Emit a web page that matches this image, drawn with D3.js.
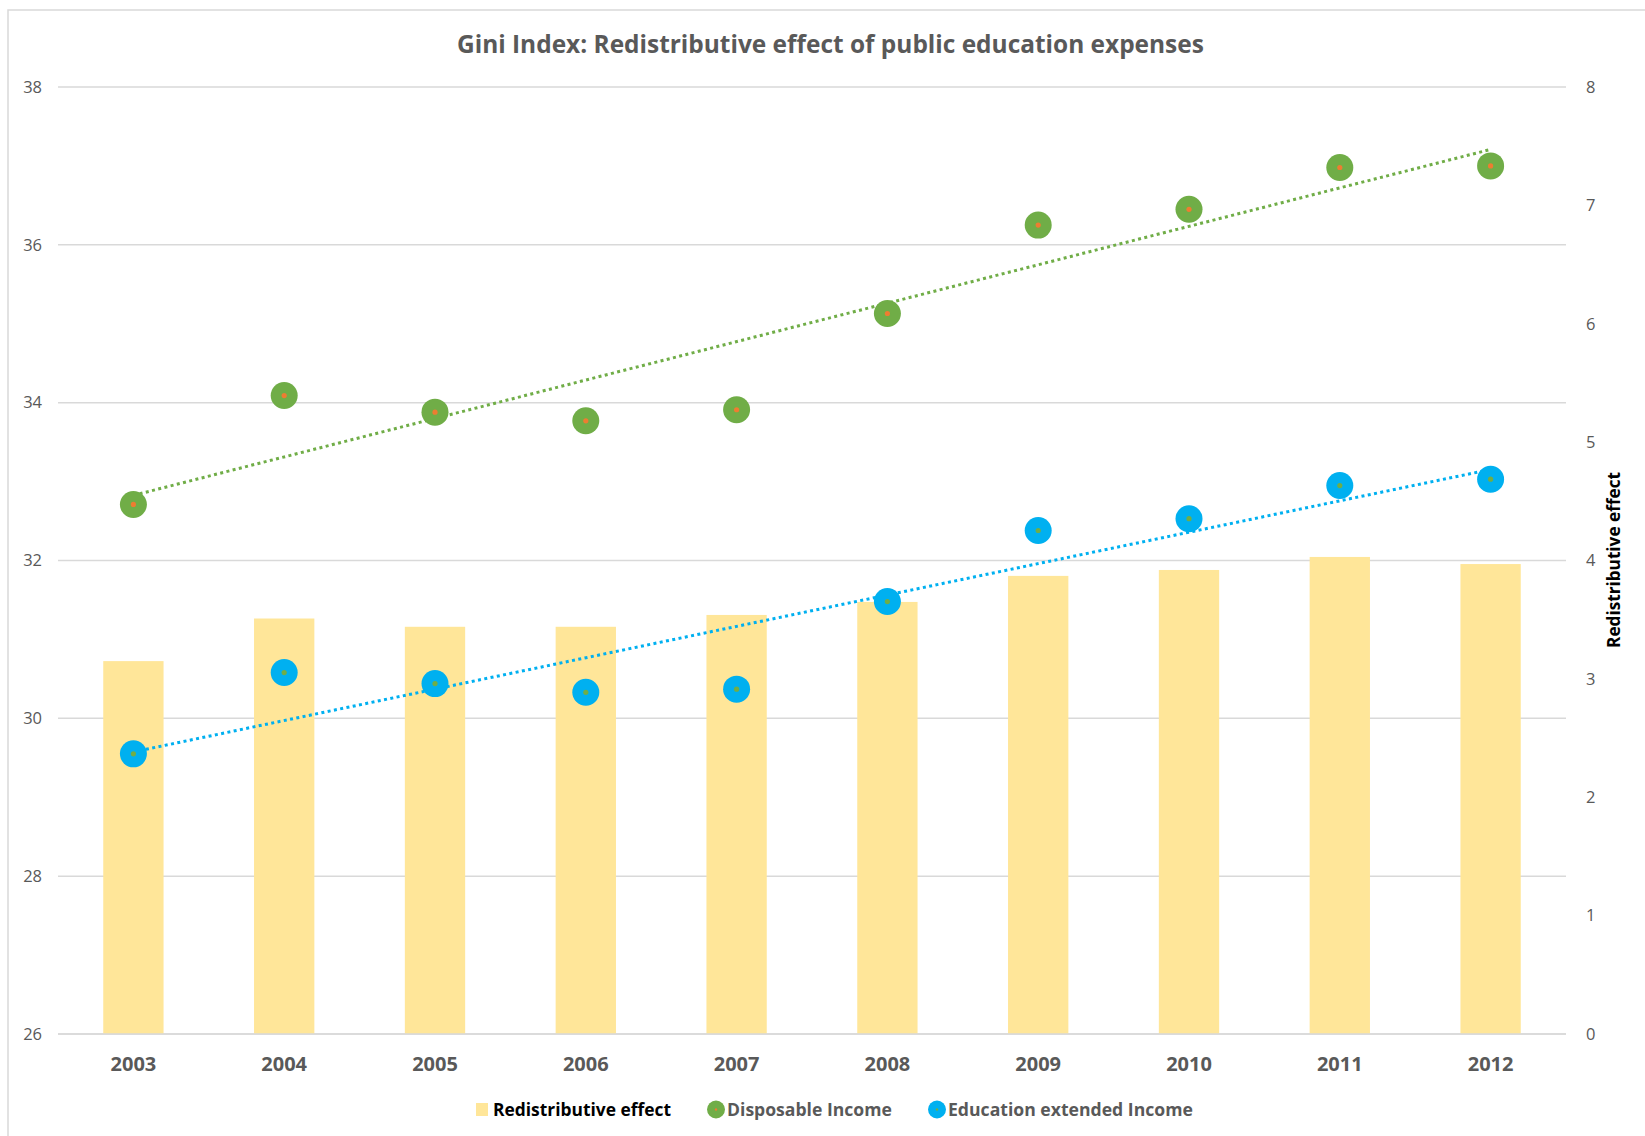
<!DOCTYPE html>
<html>
<head>
<meta charset="utf-8">
<script src="https://cdn.jsdelivr.net/npm/d3@7"></script>
<style>
  html, body { margin: 0; padding: 0; background: #fff; }
  svg { display: block; font-family: "Open Sans", "Noto Sans", sans-serif; }
</style>
</head>
<body>
<svg id="chart" width="1645" height="1136"></svg>
<script>
(function () {
  "use strict";

  const years = ["2003", "2004", "2005", "2006", "2007", "2008", "2009", "2010", "2011", "2012"];
  const redistributive = [3.15, 3.51, 3.44, 3.44, 3.54, 3.65, 3.87, 3.92, 4.03, 3.97];
  const disposable = [32.71, 34.09, 33.88, 33.77, 33.91, 35.13, 36.25, 36.45, 36.98, 37.0];
  const educationExt = [29.55, 30.58, 30.44, 30.33, 30.37, 31.48, 32.38, 32.53, 32.95, 33.03];
  const leftTicks = [26, 28, 30, 32, 34, 36, 38];
  const rightTicks = [0, 1, 2, 3, 4, 5, 6, 7, 8];

  const GREEN = "#70AD47";
  const BLUE = "#00B0F0";
  const ORANGE = "#ED7D31";
  const BAR = "#FFE699";
  const GRID = "#D9D9D9";
  const TXT = "#595959";

  const plot = { left: 58, right: 1566, top: 87, bottom: 1034 };

  const svg = d3.select("#chart");

  // rahmen: nur links/oben sichtbar, rest liegt ausserhalb des bildes
  svg.append("rect")
    .attr("x", 8).attr("y", 10)
    .attr("width", 1660).attr("height", 1160)
    .attr("fill", "none").attr("stroke", GRID).attr("stroke-width", 1.5);

  const x = d3.scaleBand().domain(years).range([plot.left, plot.right]);
  const yL = d3.scaleLinear().domain([26, 38]).range([plot.bottom, plot.top]);
  const yR = d3.scaleLinear().domain([0, 8]).range([plot.bottom, plot.top]);
  const cx = (d) => x(d) + x.bandwidth() / 2;
  const barW = x.bandwidth() * 0.4;

  // text auf eine zielbreite bringen (Calibri fehlt, deshalb messen)
  function fit(sel, width) {
    const node = sel.node();
    const size = parseFloat(sel.attr("font-size"));
    const len = node.getComputedTextLength();
    if (len > 0) sel.attr("font-size", (size * width / len).toFixed(2));
    return sel;
  }

  // gitterlinien
  svg.append("g").selectAll("line")
    .data(leftTicks)
    .join("line")
    .attr("x1", plot.left).attr("x2", plot.right)
    .attr("y1", (d) => yL(d)).attr("y2", (d) => yL(d))
    .attr("stroke", GRID).attr("stroke-width", 1.5);

  // balken (rechte achse)
  svg.append("g").selectAll("rect")
    .data(years)
    .join("rect")
    .attr("x", (d) => cx(d) - barW / 2)
    .attr("width", barW)
    .attr("y", (d, i) => yR(redistributive[i]))
    .attr("height", (d, i) => yR(0) - yR(redistributive[i]))
    .attr("fill", BAR);

  // x-achsenlinie ueber die balken
  svg.append("line")
    .attr("x1", plot.left).attr("x2", plot.right)
    .attr("y1", yL(26)).attr("y2", yL(26))
    .attr("stroke", GRID).attr("stroke-width", 1.5);

  // lineare trendlinie (kleinste quadrate ueber index 0..n-1)
  function trend(vals) {
    const n = vals.length;
    const mx = (n - 1) / 2;
    const my = d3.mean(vals);
    let sxy = 0, sxx = 0;
    vals.forEach((v, i) => { sxy += (i - mx) * (v - my); sxx += (i - mx) * (i - mx); });
    const b = sxy / sxx;
    return [my - b * mx, my + b * (n - 1 - mx)];
  }

  function drawSeries(vals, color, dotColor) {
    const t = trend(vals);
    svg.append("line")
      .attr("x1", cx(years[0])).attr("y1", yL(t[0]))
      .attr("x2", cx(years[years.length - 1])).attr("y2", yL(t[1]))
      .attr("stroke", color).attr("stroke-width", 3)
      .attr("stroke-dasharray", "3 3.4");

    const g = svg.append("g").selectAll("g")
      .data(years)
      .join("g")
      .attr("transform", (d, i) => `translate(${cx(d)},${yL(vals[i])})`);
    g.append("circle").attr("r", 13.5).attr("fill", color);
    g.append("circle").attr("r", 2.6).attr("fill", dotColor);
  }

  drawSeries(disposable, GREEN, ORANGE);
  drawSeries(educationExt, BLUE, GREEN);

  // achsenbeschriftungen
  svg.append("g").selectAll("text")
    .data(leftTicks)
    .join("text")
    .attr("x", 42).attr("y", (d) => yL(d))
    .attr("dy", "0.35em")
    .attr("text-anchor", "end")
    .attr("font-size", 16.5)
    .attr("fill", TXT)
    .text((d) => d);

  svg.append("g").selectAll("text")
    .data(rightTicks)
    .join("text")
    .attr("x", 1586).attr("y", (d) => yR(d))
    .attr("dy", "0.35em")
    .attr("font-size", 16.5)
    .attr("fill", TXT)
    .text((d) => d);

  svg.append("g").selectAll("text")
    .data(years)
    .join("text")
    .attr("x", (d) => cx(d)).attr("y", 1071)
    .attr("text-anchor", "middle")
    .attr("font-size", 20)
    .attr("font-weight", 700)
    .attr("fill", TXT)
    .text((d) => d);

  // titel
  fit(svg.append("text")
    .attr("x", 457).attr("y", 53)
    .attr("font-size", 22)
    .attr("font-weight", 700)
    .attr("fill", TXT)
    .text("Gini Index: Redistributive effect of public education expenses"), 747);

  // rechte achsentitel
  fit(svg.append("text")
    .attr("transform", "translate(1620,560) rotate(-90)")
    .attr("text-anchor", "middle")
    .attr("font-size", 16)
    .attr("font-weight", 700)
    .attr("fill", "#000")
    .text("Redistributive effect"), 176);

  // legende
  const legendY = 1116;
  svg.append("rect")
    .attr("x", 476).attr("y", 1103).attr("width", 12).attr("height", 13)
    .attr("fill", BAR);
  fit(svg.append("text")
    .attr("x", 493).attr("y", legendY)
    .attr("font-size", 17).attr("font-weight", 700).attr("fill", "#000")
    .text("Redistributive effect"), 178);

  svg.append("circle").attr("cx", 716).attr("cy", 1109.5).attr("r", 9).attr("fill", GREEN);
  svg.append("circle").attr("cx", 716).attr("cy", 1109.5).attr("r", 1.2).attr("fill", ORANGE);
  fit(svg.append("text")
    .attr("x", 727).attr("y", legendY)
    .attr("font-size", 17).attr("font-weight", 700).attr("fill", TXT)
    .text("Disposable Income"), 165);

  svg.append("circle").attr("cx", 937).attr("cy", 1109.5).attr("r", 9).attr("fill", BLUE);
  svg.append("circle").attr("cx", 937).attr("cy", 1109.5).attr("r", 1.2).attr("fill", GREEN);
  fit(svg.append("text")
    .attr("x", 948).attr("y", legendY)
    .attr("font-size", 17).attr("font-weight", 700).attr("fill", TXT)
    .text("Education extended Income"), 245);
})();
</script>
</body>
</html>
